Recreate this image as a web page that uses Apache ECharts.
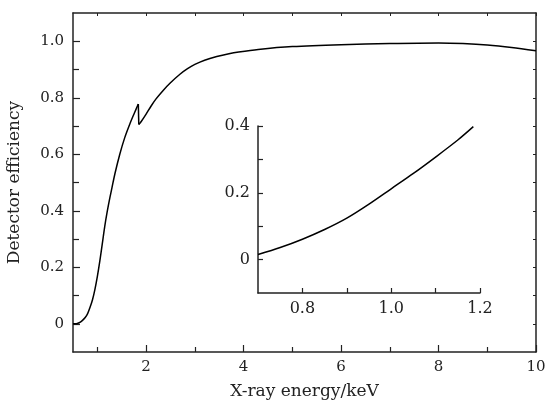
<!DOCTYPE html>
<html>
<head>
<meta charset="utf-8">
<script src="https://cdn.jsdelivr.net/npm/echarts@6/dist/echarts.min.js"></script>
<style>
html,body{margin:0;padding:0;background:#fff;}
#chart{width:548px;height:403px;}
</style>
</head>
<body>
<div id="chart"></div>
<script>
// Main curve: X-ray energy (keV) vs detector efficiency, below the absorption edge
const preEdgeEnergy = [0.5,0.55,0.6,0.65,0.7,0.75,0.8,0.85,0.9,0.95,1.0,1.05,1.1,1.15,1.2,1.26,1.3,1.36,1.46,1.56,1.67,1.76,1.84];
const preEdgeEfficiency = [0.000,0.000,0.002,0.006,0.013,0.022,0.036,0.058,0.085,0.122,0.168,0.222,0.282,0.343,0.395,0.449,0.482,0.531,0.600,0.658,0.709,0.746,0.778];
// above the absorption edge
const postEdgeEnergy = [1.85,1.9,2.0,2.1,2.2,2.35,2.5,2.7,2.85,3.0,3.2,3.45,3.7,3.9,4.3,5.0,6.0,7.0,8.0,8.5,9.0,9.5,10.0];
const postEdgeEfficiency = [0.705,0.716,0.742,0.770,0.795,0.826,0.853,0.884,0.903,0.918,0.933,0.946,0.956,0.962,0.971,0.981,0.988,0.992,0.994,0.992,0.987,0.978,0.966];
// Inset curve (zoom on 0.7–1.2 keV)
const insetEnergy = [0.7,0.75,0.8,0.85,0.9,0.95,1.0,1.05,1.1,1.15,1.185];
const insetEfficiency = [0.015,0.036,0.061,0.090,0.124,0.166,0.212,0.258,0.307,0.358,0.398];

// Tick values
const mainXTicks = [2,4,6,8,10];
const mainXMinorTicks = [1,3,5,7,9];
const mainXTopTicks = [1,2,3,4,5,6,7,8,9,10];
const mainYTicks = [0,0.2,0.4,0.6,0.8,1.0];
const mainYMinorTicks = [0.1,0.3,0.5,0.7,0.9];
const mainYRightTicks = [0,0.1,0.2,0.3,0.4,0.5,0.6,0.7,0.8,0.9,1.0];
const insetXLabels = [0.8,1.0,1.2];
const insetXTicks = [0.8,0.9,1.0,1.1,1.2];
const insetYLabels = [0,0.2,0.4];
const insetYTicks = [0,0.1,0.2,0.3,0.4];

const FONT = 'DejaVu Serif';
const AX = '#222';
const fmt = v => (Math.abs(v) < 1e-9 ? '0' : Number(v).toFixed(1));
const fmtInt = v => String(Math.round(v));

const chart = echarts.init(document.getElementById('chart'), null, {renderer:'canvas'});

function lineAxis(extra) {
  return Object.assign({
    type: 'value',
    splitLine: {show: false},
    axisLine: {show: true, onZero: false, lineStyle: {color: AX, width: 1.5}},
  }, extra);
}
const hiddenLine = {show: false, onZero: false};

const pre = preEdgeEnergy.map((e, i) => [e, preEdgeEfficiency[i]]);
const post = postEdgeEnergy.map((e, i) => [e, postEdgeEfficiency[i]]);
const edge = [pre[pre.length - 1], post[0]];

const option = {
  animation: false,
  backgroundColor: '#fff',
  grid: [
    {left: 73, top: 13, width: 463, height: 339, containLabel: false, outerBoundsMode: 'none'},
    {left: 258, top: 126, width: 222, height: 167, containLabel: false, outerBoundsMode: 'none'}
  ],
  xAxis: [
    lineAxis({gridIndex: 0, min: 0.5, max: 10, position: 'bottom',
      name: 'X-ray energy/keV', nameLocation: 'middle', nameGap: 31,
      nameTextStyle: {fontFamily: FONT, fontSize: 17, color: '#222'},
      axisTick: {show: true, inside: true, length: 7, customValues: mainXTicks, lineStyle: {color: AX, width: 1.2}},
      axisLabel: {show: true, customValues: mainXTicks, formatter: fmtInt, fontFamily: FONT, fontSize: 15, color: '#222', margin: 8}
    }),
    lineAxis({gridIndex: 0, min: 0.5, max: 10, position: 'bottom',
      axisLine: hiddenLine,
      axisTick: {show: true, inside: true, length: 5, customValues: mainXMinorTicks, lineStyle: {color: AX, width: 1.2}},
      axisLabel: {show: false}
    }),
    lineAxis({gridIndex: 0, min: 0.5, max: 10, position: 'top',
      axisTick: {show: true, inside: true, length: 3, customValues: mainXTopTicks, lineStyle: {color: AX, width: 1}},
      axisLabel: {show: false}
    }),
    lineAxis({gridIndex: 1, min: 0.7, max: 1.2, position: 'bottom',
      axisTick: {show: true, inside: true, length: 5, customValues: insetXTicks, lineStyle: {color: AX, width: 1.2}},
      axisLabel: {show: true, customValues: insetXLabels, formatter: fmt, fontFamily: FONT, fontSize: 16, color: '#222', margin: 8}
    })
  ],
  yAxis: [
    lineAxis({gridIndex: 0, min: -0.1, max: 1.1, position: 'left',
      name: 'Detector efficiency', nameLocation: 'middle', nameGap: 50, nameRotate: 90,
      nameTextStyle: {fontFamily: FONT, fontSize: 17, color: '#222'},
      axisTick: {show: true, inside: true, length: 7, customValues: mainYTicks, lineStyle: {color: AX, width: 1.2}},
      axisLabel: {show: true, customValues: mainYTicks, formatter: fmt, fontFamily: FONT, fontSize: 15, color: '#222', margin: 9}
    }),
    lineAxis({gridIndex: 0, min: -0.1, max: 1.1, position: 'left',
      axisLine: hiddenLine,
      axisTick: {show: true, inside: true, length: 6, customValues: mainYMinorTicks, lineStyle: {color: AX, width: 1.2}},
      axisLabel: {show: false}
    }),
    lineAxis({gridIndex: 0, min: -0.1, max: 1.1, position: 'right',
      axisTick: {show: true, inside: true, length: 3, customValues: mainYRightTicks, lineStyle: {color: AX, width: 1}},
      axisLabel: {show: false}
    }),
    lineAxis({gridIndex: 1, min: -0.1, max: 0.4, position: 'left',
      axisTick: {show: true, inside: true, length: 5, customValues: insetYTicks, lineStyle: {color: AX, width: 1.2}},
      axisLabel: {show: true, customValues: insetYLabels, formatter: fmt, fontFamily: FONT, fontSize: 16, color: '#222', margin: 8}
    })
  ],
  series: [
    {
      type: 'line', xAxisIndex: 0, yAxisIndex: 0, data: pre,
      showSymbol: false, smooth: 0.3,
      lineStyle: {color: '#000', width: 1.5}
    },
    {
      type: 'line', xAxisIndex: 0, yAxisIndex: 0, data: edge,
      showSymbol: false, smooth: false,
      lineStyle: {color: '#000', width: 1.5}
    },
    {
      type: 'line', xAxisIndex: 0, yAxisIndex: 0, data: post,
      showSymbol: false, smooth: 0.3,
      lineStyle: {color: '#000', width: 1.5}
    },
    {
      type: 'line', xAxisIndex: 3, yAxisIndex: 3,
      data: insetEnergy.map((e, i) => [e, insetEfficiency[i]]),
      showSymbol: false, smooth: 0.3,
      lineStyle: {color: '#000', width: 1.5}
    }
  ]
};
chart.setOption(option);
</script>
</body>
</html>
